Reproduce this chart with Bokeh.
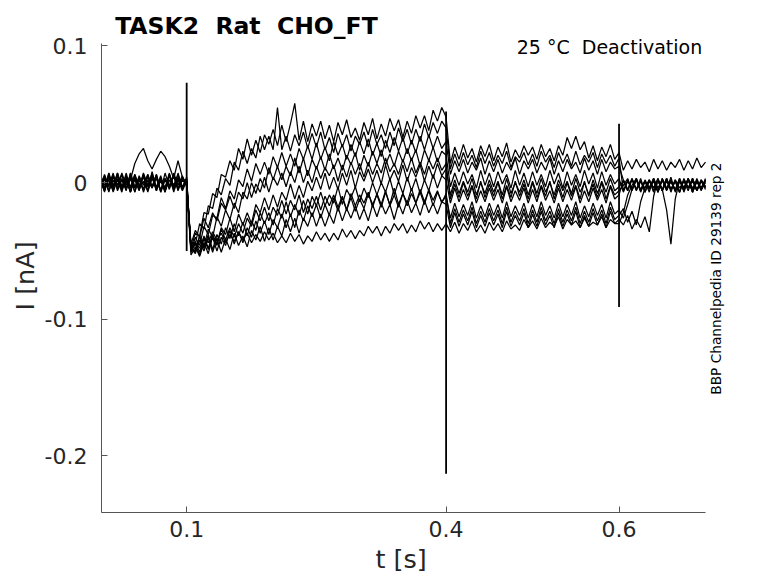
import numpy as np
from bokeh.plotting import figure
from bokeh.models import Range1d, FixedTicker, CustomJSTickFormatter, Label, Title
from bokeh.embed import file_html
from bokeh.resources import INLINE

# sampling step of the digitised sweeps (s); currents below are in pA
DT = 0.005

trace_1 = [5,-4,7,-6,2,-7,4,-3,6,-5,1,-6,8,-4,3,-7,5,-2,6,-5,2,
           -48,-37,-39,-22,-23,-8,-11,6,4,16, 9,25,17,32,20,31,22,35,28,39,
           27,42,30,43,58,31,45,30,43,34, 45,32,42,30,44,35,46,33,40,31,
           44,35,47,32,43,34,47,38,46,33, 45,36,49,40,49,38,53,45,55,
           48,14,26,17,28,18,25,15,27,19, 28,16,26,19,29,15,24,18,27,20,
           26,17,28,19,25,16,27,20,33,25, 34,24,30,18,27,16,26,19,28,17,
           22,9,16,10,17,11,15,8,17,10,16,9,15,11,17,9,16,10,18,11,15]
trace_2 = [-6,3,-7,5,-2,6,-5,7,-3,4,-7,2,-4,6,-6,3,-5,7,-2,5,-3,
           -46,-45,-30,-34,-17,-19,-4,-9,3,-2, 15,9,23,14,25,18,34,24,34,24,
           55,24,34,23,35,27,37,25,36,26, 37,24,33,22,36,26,35,23,34,28,
           37,26,39,28,35,25,37,27,40,30, 39,28,39,30,43,33,44,36,45,
           40,10,21,12,22,13,20,11,23,14, 22,12,20,14,23,11,19,15,22,13,
           21,12,23,15,20,11,22,14,21,12, 23,13,20,15,22,11,21,14,20,12,
           18,-6,2,-5,3,-7,1,-4,3,-6,2,-5,4,-7,1,-4,2,-6,3,-5,1]
trace_3 = [3,-7,5,-2,7,-5,1,-6,4,-4,6,-7,3,-3,5,-6,2,-5,7,-4,1,
           -50,-40,-46,-32,-38,-24,-26,-11,-19,-6, -12,2,-3,10,1,14,6,15,6,19,
           11,22,12,21,12,25,17,27,17,29, 17,26,16,30,20,28,17,28,19,30,
           21,32,20,29,19,31,22,33,23,33, 21,31,22,34,24,35,25,34,25,
           30,6,16,8,17,7,15,9,18,6, 16,8,17,7,15,9,18,6,16,10,
           17,7,15,9,18,6,16,8,17,10, 15,7,18,9,16,6,17,8,15,10,
           12,2,-6,3,-5,1,-7,2,-4,3,-6,1,-5,2,-7,3,-4,1,-6,2,-3]
trace_4 = [-4,6,-3,7,-6,2,-5,4,-7,5,-2,6,-4,3,-6,7,-3,5,-5,2,-2,
           -48,-50,-39,-47,-34,-40,-25,-32,-20,-27, -15,-22,-7,-12,0,-8,3,-4,11,2,
           12,2,12,5,18,7,18,5,17,10, 19,9,21,10,18,9,20,13,22,9,
           20,12,23,14,24,13,21,12,23,15, 25,16,24,12,24,16,26,15,23,
           20,-3,7,-2,8,-1,6,-4,9,-2, 7,-3,8,-1,6,-4,9,-2,7,-3,
           8,-2,6,-3,9,-1,7,-4,8,-2, 6,-3,9,-1,7,-4,8,-2,6,-1,
           3,-7,1,-5,3,-6,2,-4,1,-7,3,-5,2,-6,1,-4,3,-7,2,-5,0]
trace_5 = [6,-2,4,-7,3,-5,7,-4,2,-6,5,-3,7,-5,1,-4,6,-7,3,-3,4,
           -50,-43,-51,-39,-48,-38,-45,-33,-38,-26, -36,-23,-31,-22,-30,-16,-22,-11,-20,-9,
           -18,-7,-13,-1,-12,-2,-11,1,-6,4, -5,7,-5,4,-5,7,-2,9,-4,8,
           1,10,0,9,-1,13,2,9,1,13, 1,11,4,13,1,12,3,14,5,
           10,-9,2,-8,1,-7,3,-9,0,-8, 2,-7,1,-9,3,-8,0,-7,2,-9,
           1,-8,3,-7,0,-9,2,-6,1,-8, 3,-7,0,-9,2,-8,1,-7,3,-6,
           -3,1,-6,2,-5,3,-7,1,-4,2,-6,3,-5,1,-7,2,-4,3,-6,1,-3]
trace_6 = [-3,5,-6,2,-4,7,-2,5,-7,3,-5,4,-3,6,-7,2,-4,5,-6,3,0,
           -47,-51,-39,-48,-38,-49,-38,-45,-33,-41, -30,-39,-29,-39,-28,-35,-22,-30,-22,-31,
           -19,-26,-14,-25,-16,-24,-13,-23,-10,-17, -7,-17,-9,-15,-3,-16,-5,-11,-3,-14,
           -4,-11,0,-9,0,-7,3,-9,1,-8, 4,-6,3,-8,2,-6,6,-4,5,
           2,-15,-4,-14,-5,-13,-3,-15,-6,-14, -4,-13,-5,-15,-3,-14,-6,-13,-4,-15,
           -5,-14,-3,-13,-6,-15,-4,-14,-5,-13, -3,-15,-6,-14,-4,-13,-5,-15,-3,-12,
           -9,2,-5,3,-6,1,-4,2,-7,3,-5,-20,-45,-12,2,-6,3,-5,1,-4,2]
trace_7 = [2,-6,7,-3,5,-5,3,-7,6,-2,4,-6,5,-4,2,-7,6,-3,4,-5,3,
           -50,-45,-53,-41,-49,-40,-50,-40,-46,-35, -45,-36,-44,-33,-40,-28,-37,-28,-38,-27,
           -33,-23,-33,-23,-33,-20,-28,-17,-25,-16, -26,-16,-24,-11,-21,-11,-20,-11,-21,-12,
           -19,-8,-16,-9,-18,-7,-16,-4,-16,-8, -15,-4,-15,-7,-16,-5,-13,-6,-15,
           -8,-30,-19,-29,-20,-28,-18,-30,-21,-29, -19,-28,-20,-30,-18,-29,-21,-28,-19,-30,
           -20,-29,-18,-28,-21,-30,-19,-29,-20,-28, -18,-30,-21,-29,-19,-28,-20,-30,-18,-27,
           -24,-19,-29,-21,-31,-14,-4,2,-6,1,-5,3,-7,2,-4,1,-6,3,-5,2,-4]
trace_8 = [-7,4,-2,6,-5,3,-6,7,-4,2,-5,6,-3,5,-7,3,-2,6,-4,4,-1,
           -48,-52,-42,-50,-40,-51,-41,-51,-41,-49, -37,-46,-39,-47,-35,-42,-32,-43,-33,-42,
           -32,-39,-27,-36,-26,-37,-26,-32,-22,-32, -23,-32,-23,-30,-18,-28,-19,-26,-17,-27,
           -19,-28,-16,-25,-15,-23,-16,-27,-15,-23, -13,-22,-15,-24,-13,-22,-15,-23,-14,
           -16,-33,-22,-32,-23,-31,-21,-33,-24,-32, -22,-31,-23,-33,-21,-32,-24,-31,-22,-33,
           -23,-32,-21,-31,-24,-33,-22,-32,-23,-31, -21,-33,-24,-32,-22,-31,-23,-33,-21,-30,
           -27,-31,-24,-34,-27,-33,-25,-36,-10,2,-6,3,-5,1,-7,2,-4,3,-6,1,-5]
trace_9 = [4,-5,2,-6,6,-3,5,-7,3,-4,7,-2,4,-6,3,-5,6,-4,2,-6,1,
           -51,-44,-48,-40,-44,-36,-42,-37,-44,-38, -43,-36,-42,-37,-44,-38,-43,-36,-42,-37,
           -44,-39,-44,-37,-43,-38,-45,-39,-43,-36, -42,-37,-43,-37,-42,-34,-40,-35,-41,-35,
           -39,-32,-37,-32,-39,-32,-37,-30,-35,-30, -37,-31,-36,-28,-34,-29,-36,-30,-35,
           -30,-36,-29,-37,-30,-35,-28,-36,-31,-37, -29,-35,-30,-36,-28,-34,-31,-35,-27,-33,
           -28,-34,-26,-33,-29,-32,-25,-34,-27,-31, -28,-33,-26,-32,-29,-31,-25,-33,-27,-30,
           -30,-22,-9,-2,3,-6,1,-5,2,-7,3,-4,1,-6,2,-5,3,-7,1,-4,2]
trace_10 = [-5,3,-6,4,-2,6,-4,2,14,21,25,16,10,17,23,19,12,3,16,4,-2,
            -45,-35,-40,-26,-33,-22,-28,-15,-20,-10, -19,-7,-12,0,-11,-1,-7,4,-7,4,
            -2,7,-3,8,0,12,0,9,0,12, 3,11,5,13,1,13,4,15,6,14,
            4,15,6,14,7,18,8,14,6,17, 8,18,7,15,6,17,10,18,9,
            14,-12,-1,-11,0,-10,-2,-12,1,-11, -1,-10,0,-12,-2,-11,1,-10,-1,-12,
            0,-11,-2,-10,1,-12,-1,-11,0,-10, -2,-12,1,-10,-1,-11,0,-12,-2,-9,
            -6,-2,3,-6,2,-5,1,-7,3,-4,2,-6,1,-5,3,-7,2,-4,1,-6,2]
trace_11 = [1,-6,5,-4,7,-3,2,-7,4,-5,6,-2,5,-6,3,-4,7,-5,2,-3,0,
            -53,-47,-54,-44,-52,-39,-46,-34,-42,-33, -40,-30,-37,-26,-32,-20,-28,-18,-28,-18,
            -24,-13,-23,-13,-20,-9,-22,-12,-19,-10, -20,-10,-17,-9,-18,-10,-20,-8,-17,-9,
            -15,-7,-18,-8,-16,-6,-17,-9,-18,-8, -17,-8,-15,-5,-14,-6,-17,-7,-14,
            -10,-26,-15,-25,-16,-24,-14,-26,-17,-25, -15,-24,-16,-26,-14,-25,-17,-24,-15,-26,
            -16,-25,-14,-24,-17,-26,-15,-25,-16,-24, -14,-26,-17,-25,-15,-24,-16,-26,-14,-23,
            -20,-26,-16,-5,2,-6,1,-4,3,-7,2,-5,1,-6,3,-4,2,-7,1,-5,3]

traces_pA = [trace_1, trace_2, trace_3, trace_4, trace_5, trace_6,
             trace_7, trace_8, trace_9, trace_10, trace_11]

# capacitive transients at the voltage steps
transient_t = [0.1, 0.4, 0.6]
transient_hi_pA = [73, 52, 43]
transient_lo_pA = [-50, -213, -91]

x_ticks = [0.1, 0.4, 0.6]
y_ticks = [-0.2, -0.1, 0, 0.1]

title_text = "TASK2\u00a0 Rat\u00a0 CHO_FT"
cond_text = "25 °C\u00a0 Deactivation"
id_text = "BBP Channelpedia ID 29139 rep 2"
x_label = "t [s]"
y_label = "I [nA]"

X0, X1 = 0.0015, 0.7        # data extent of the time axis
Y0, Y1 = -0.2414, 0.1018    # data extent of the current axis

p = figure(width=762, height=580, output_backend="svg", toolbar_location=None,
           x_range=Range1d(X0, 0.7289), y_range=Range1d(Y0, 0.1296),
           min_border_left=101, min_border_right=32, min_border_top=5,
           min_border_bottom=68, title=None)
p.xgrid.visible = False
p.ygrid.visible = False
p.outline_line_color = None
p.background_fill_color = "white"
p.border_fill_color = "white"

for tr in traces_pA:
    t = np.arange(len(tr)) * DT
    p.line(t, np.array(tr) / 1000.0, line_color="black", line_width=1.25)

p.segment(x0=transient_t, y0=np.array(transient_lo_pA) / 1000.0,
          x1=transient_t, y1=np.array(transient_hi_pA) / 1000.0,
          line_color="black", line_width=1.8)

fmt = CustomJSTickFormatter(code="return Math.abs(tick) < 1e-9 ? '0' : tick.toFixed(1);")
p.xaxis.ticker = FixedTicker(ticks=x_ticks, minor_ticks=[])
p.yaxis.ticker = FixedTicker(ticks=y_ticks, minor_ticks=[])
p.xaxis.bounds = (X0, X1)
p.yaxis.bounds = (Y0, Y1)
p.xaxis.formatter = fmt
p.yaxis.formatter = fmt
for ax in (p.xaxis, p.yaxis):
    ax.axis_line_color = "#555555"
    ax.major_tick_line_color = "#555555"
    ax.major_tick_in = 6
    ax.major_tick_out = 0
    ax.minor_tick_line_color = None
    ax.major_label_text_font = "DejaVu Sans"
    ax.major_label_text_font_size = "22px"
    ax.major_label_text_color = "#262626"
p.xaxis.major_label_standoff = 8
p.yaxis.major_label_standoff = 14

# axis titles, placed along the drawn axis extent
p.add_layout(Title(text=x_label, align="left", offset=274, standoff=8,
                   vertical_align="top",
                   text_font="DejaVu Sans", text_font_size="25.5px",
                   text_font_style="normal", text_color="#262626"), "below")
p.add_layout(Title(text=y_label, align="left", offset=202, standoff=3,
                   text_font="DejaVu Sans", text_font_size="25.5px",
                   text_font_style="normal", text_color="#262626"), "left")

p.add_layout(Label(x=0.0173, y=0.1145, text=title_text, text_font="DejaVu Sans",
                   text_font_style="bold", text_font_size="23.5px",
                   text_align="left", text_baseline="alphabetic", text_color="black"))
p.add_layout(Label(x=0.6962, y=0.0991, text=cond_text, text_font="DejaVu Sans",
                   text_font_size="19px", text_align="right",
                   text_baseline="alphabetic", text_color="black"))
p.add_layout(Label(x=0.7118, y=-0.0702, text=id_text, text_font="DejaVu Sans",
                   text_font_size="13.7px", text_align="center", angle=np.pi / 2,
                   text_baseline="alphabetic", text_color="black"))

open("out.html", "w").write(file_html(p, INLINE))
